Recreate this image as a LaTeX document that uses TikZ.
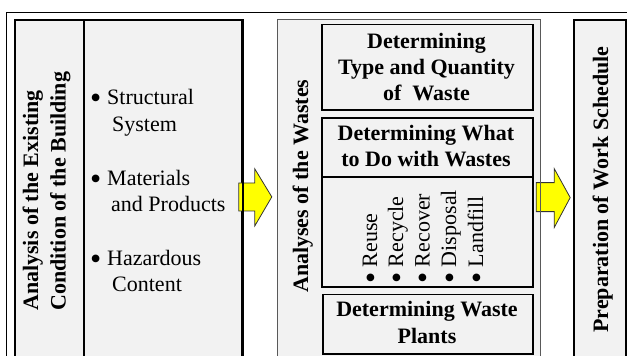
\documentclass[tikz,border=0pt]{standalone}
\usepackage{fontspec}
\setmainfont{Liberation Serif}
\usetikzlibrary{calc}
\definecolor{boxfill}{HTML}{F2F2F2}
\definecolor{arrowyellow}{HTML}{FFFF00}
% a larger list bullet, lowered to sit at the middle of the small letters
\newcommand{\listbul}{\raisebox{-4pt}{\fontsize{32}{32}\selectfont •}}
\begin{document}
\begin{tikzpicture}[x=1pt,y=-1pt,
  panel/.style={draw=black,line width=1.8pt,fill=boxfill,inner sep=0pt,anchor=north west},
  group/.style={draw=black!65,line width=1.2pt,fill=boxfill,inner sep=0pt,anchor=north west},
  txt/.style={inner sep=0pt,font=\fontsize{22}{27}\selectfont},
  hd/.style={inner sep=0pt,font=\fontsize{22}{27}\selectfont\bfseries},
  vtxt/.style={txt,rotate=90,anchor=base west},
  vhd/.style={hd,rotate=90,anchor=base west},
  yarrow/.style={fill=arrowyellow,draw=black!80,line width=0.8pt,line join=miter},
  edge/.style={line width=1.8pt,draw=black}
]
\useasboundingbox (0,0) rectangle (627,356);
\clip (0,0) rectangle (627,356);

% outer frame
\draw[line width=1pt] (6.5,12.5) rectangle (660,400);

% building analysis panel
\node[panel,minimum width=227pt,minimum height=354pt] (lbox) at (14,19) {};
% wastes analysis group
\node[group,minimum width=262.5pt,minimum height=354pt] (mbox) at (277,19) {};
% work schedule panel
\node[panel,minimum width=52pt,minimum height=354pt] (rbox) at (573,19) {};

% inner boxes of the wastes group
\node[panel,minimum width=211pt,minimum height=85.5pt] (b1) at (321,23.5) {};
\node[panel,minimum width=211pt,minimum height=169pt] (b2) at (321,117) {};
\node[panel,minimum width=210pt,minimum height=59.5pt] (b3) at (322,293.5) {};

% dividers
\draw[edge] ($(lbox.north west)+(70,0)$) -- ($(lbox.south west)+(70,0)$);
\draw[edge] ($(b2.north west)+(0,60)$) -- ($(b2.north east)+(0,60)$);

% block arrows between the panels
\draw[yarrow] ($(lbox.east)+(-4,-14)$) -- ++(16,0) -- ++(0,-14) -- ++(17,28)
  -- ++(-17,29) -- ++(0,-15) -- ++(-16,0) -- cycle;
\draw[yarrow] ($(mbox.east)+(-4.5,-14)$) -- ++(18,0) -- ++(0,-14) -- ++(16,29)
  -- ++(-16,30) -- ++(0,-16) -- ++(-18,0) -- cycle;
\draw[edge] (lbox.north east) -- (lbox.south east);
\draw[draw=black!65,line width=1.2pt] (mbox.north east) -- (mbox.south east);

% left panel texts
\node[vhd] (t1) at (38,311) {Analysis of the Existing};
\node[vhd] (t2) at (65.5,311) {Condition of the Building};

\node[txt,anchor=base west] (s1) at (90,104) {\makebox[17pt][l]{\listbul}Structural};
\node[txt,anchor=base west] (s2) at (112,131.5) {System};
\node[txt,anchor=base west] (m1) at (90,185) {\makebox[17pt][l]{\listbul}Materials};
\node[txt,anchor=base west] (m2) at (111,211.5) {and Products};
\node[txt,anchor=base west] (h1) at (90,265) {\makebox[17pt][l]{\listbul}Hazardous};
\node[txt,anchor=base west] (h2) at (112,291.5) {Content};

% middle group texts
\node[vhd] (wa) at (308,293) {Analyses of the Wastes};

\node[hd,anchor=base] (q1) at (426.5,48.3) {Determining};
\node[hd,anchor=base] (q2) at (426.5,74) {Type and Quantity};
\node[hd,anchor=base] (q3) at (426.5,100.7) {of\ \ Waste};

\node[hd,anchor=base] (w1) at (426,140) {Determining What};
\node[hd,anchor=base] (w2) at (426,166.7) {to Do with Wastes};

\node[vtxt] (o1) at (377,284) {\listbul\ Reuse};
\node[vtxt] (o2) at (403,284) {\listbul\ Recycle};
\node[vtxt] (o3) at (429.5,284) {\listbul\ Recover};
\node[vtxt] (o4) at (456,284) {\listbul\ Disposal};
\node[vtxt] (o5) at (483,284) {\listbul\ Landfill};

\node[hd,anchor=base] (p1) at (427,316.7) {Determining Waste};
\node[hd,anchor=base] (p2) at (427,343.3) {Plants};

% right panel text
\node[vhd] (ws) at (608,333) {Preparation of Work Schedule};
\end{tikzpicture}
\end{document}
